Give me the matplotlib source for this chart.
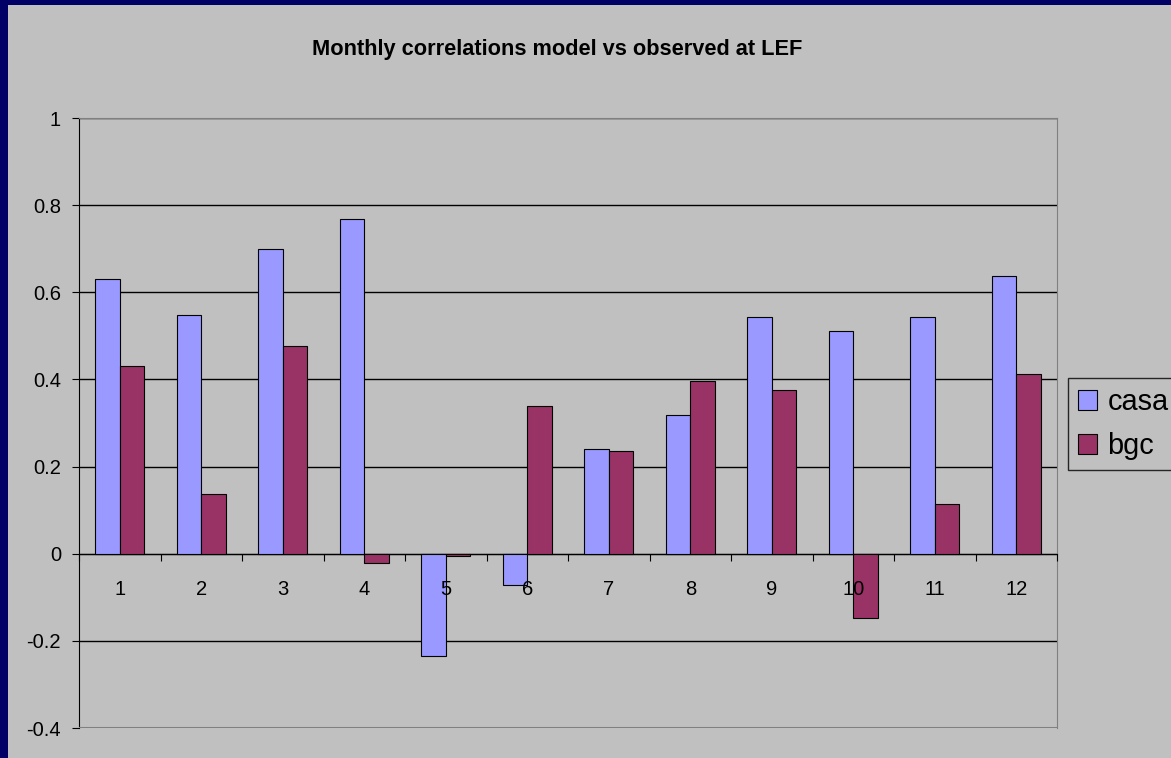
import numpy as np
import matplotlib
matplotlib.use('Agg')
import matplotlib.pyplot as plt
from matplotlib.patches import Rectangle

plt.rcParams['font.family'] = ['Liberation Sans', 'DejaVu Sans']

months = ['1', '2', '3', '4', '5', '6', '7', '8', '9', '10', '11', '12']
casa = [0.63, 0.548, 0.70, 0.768, -0.234, -0.071, 0.241, 0.319, 0.544, 0.511, 0.544, 0.638]
bgc = [0.431, 0.138, 0.477, -0.021, -0.005, 0.339, 0.236, 0.397, 0.376, -0.147, 0.115, 0.413]
yticks = [-0.4, -0.2, 0, 0.2, 0.4, 0.6, 0.8, 1]
ylabels = ['-0.4', '-0.2', '0', '0.2', '0.4', '0.6', '0.8', '1']

W, H = 1171, 758
fig = plt.figure(figsize=(W / 100, H / 100), dpi=100)
fig.patch.set_facecolor('#000066')
# grey chart area inside the navy slide border
fig.patches.append(Rectangle((8 / W, 0), 1, 1 - 5 / H, transform=fig.transFigure,
                             facecolor='#C0C0C0', edgecolor='none', zorder=-5))

ax = fig.add_axes([79 / W, (H - 728) / H, (1057 - 79) / W, 610 / H])
ax.set_facecolor('#C0C0C0')

x = np.arange(len(months))
w = 0.3
ax.bar(x - w / 2, casa, w, color='#9999FF', edgecolor='black', linewidth=0.8, label='casa', zorder=3)
ax.bar(x + w / 2, bgc, w, color='#993366', edgecolor='black', linewidth=0.8, label='bgc', zorder=3)

ax.set_xlim(-0.5, len(months) - 0.5)
ax.set_ylim(-0.4, 1)
ax.set_yticks(yticks)
ax.set_yticklabels(ylabels)
ax.grid(axis='y', color='black', linewidth=1, zorder=1)

# category axis sits at zero, ticks between categories, labels at centres
ax.spines['bottom'].set_position(('data', 0))
ax.spines['bottom'].set_color('black')
ax.spines['left'].set_color('black')
for s in ['top', 'right']:
    ax.spines[s].set_color('#808080')
ax.axhline(-0.4, color='#808080', linewidth=1.5, zorder=4)
ax.set_xticks(np.arange(len(months) + 1) - 0.5)
ax.set_xticklabels([])
ax.set_xticks(x, minor=True)
ax.set_xticklabels(months, minor=True)
ax.tick_params(axis='x', which='major', direction='out', length=5, color='black')
ax.tick_params(axis='x', which='minor', length=0, pad=19, labelsize=14.5)
ax.tick_params(axis='y', direction='out', length=5, labelsize=14.5, pad=8)
ax.xaxis.set_zorder(5)  # month labels sit on top of the negative bars

fig.text(557 / W, 1 - 50 / H, 'Monthly correlations model vs observed at LEF',
         ha='center', va='center', fontsize=15.7, fontweight='bold')

leg = ax.legend(loc='upper left', bbox_to_anchor=(1068 / W, 1 - 378 / H),
                bbox_transform=fig.transFigure, fontsize=20.8, frameon=True,
                fancybox=False, handlelength=0.67, handleheight=0.7,
                handletextpad=0.35, labelspacing=0.55, borderpad=0.35,
                borderaxespad=0)
leg.get_frame().set_facecolor('#C0C0C0')
leg.get_frame().set_edgecolor('black')
leg.get_frame().set_linewidth(1)

fig.savefig('out.png', dpi=100, facecolor=fig.get_facecolor())
